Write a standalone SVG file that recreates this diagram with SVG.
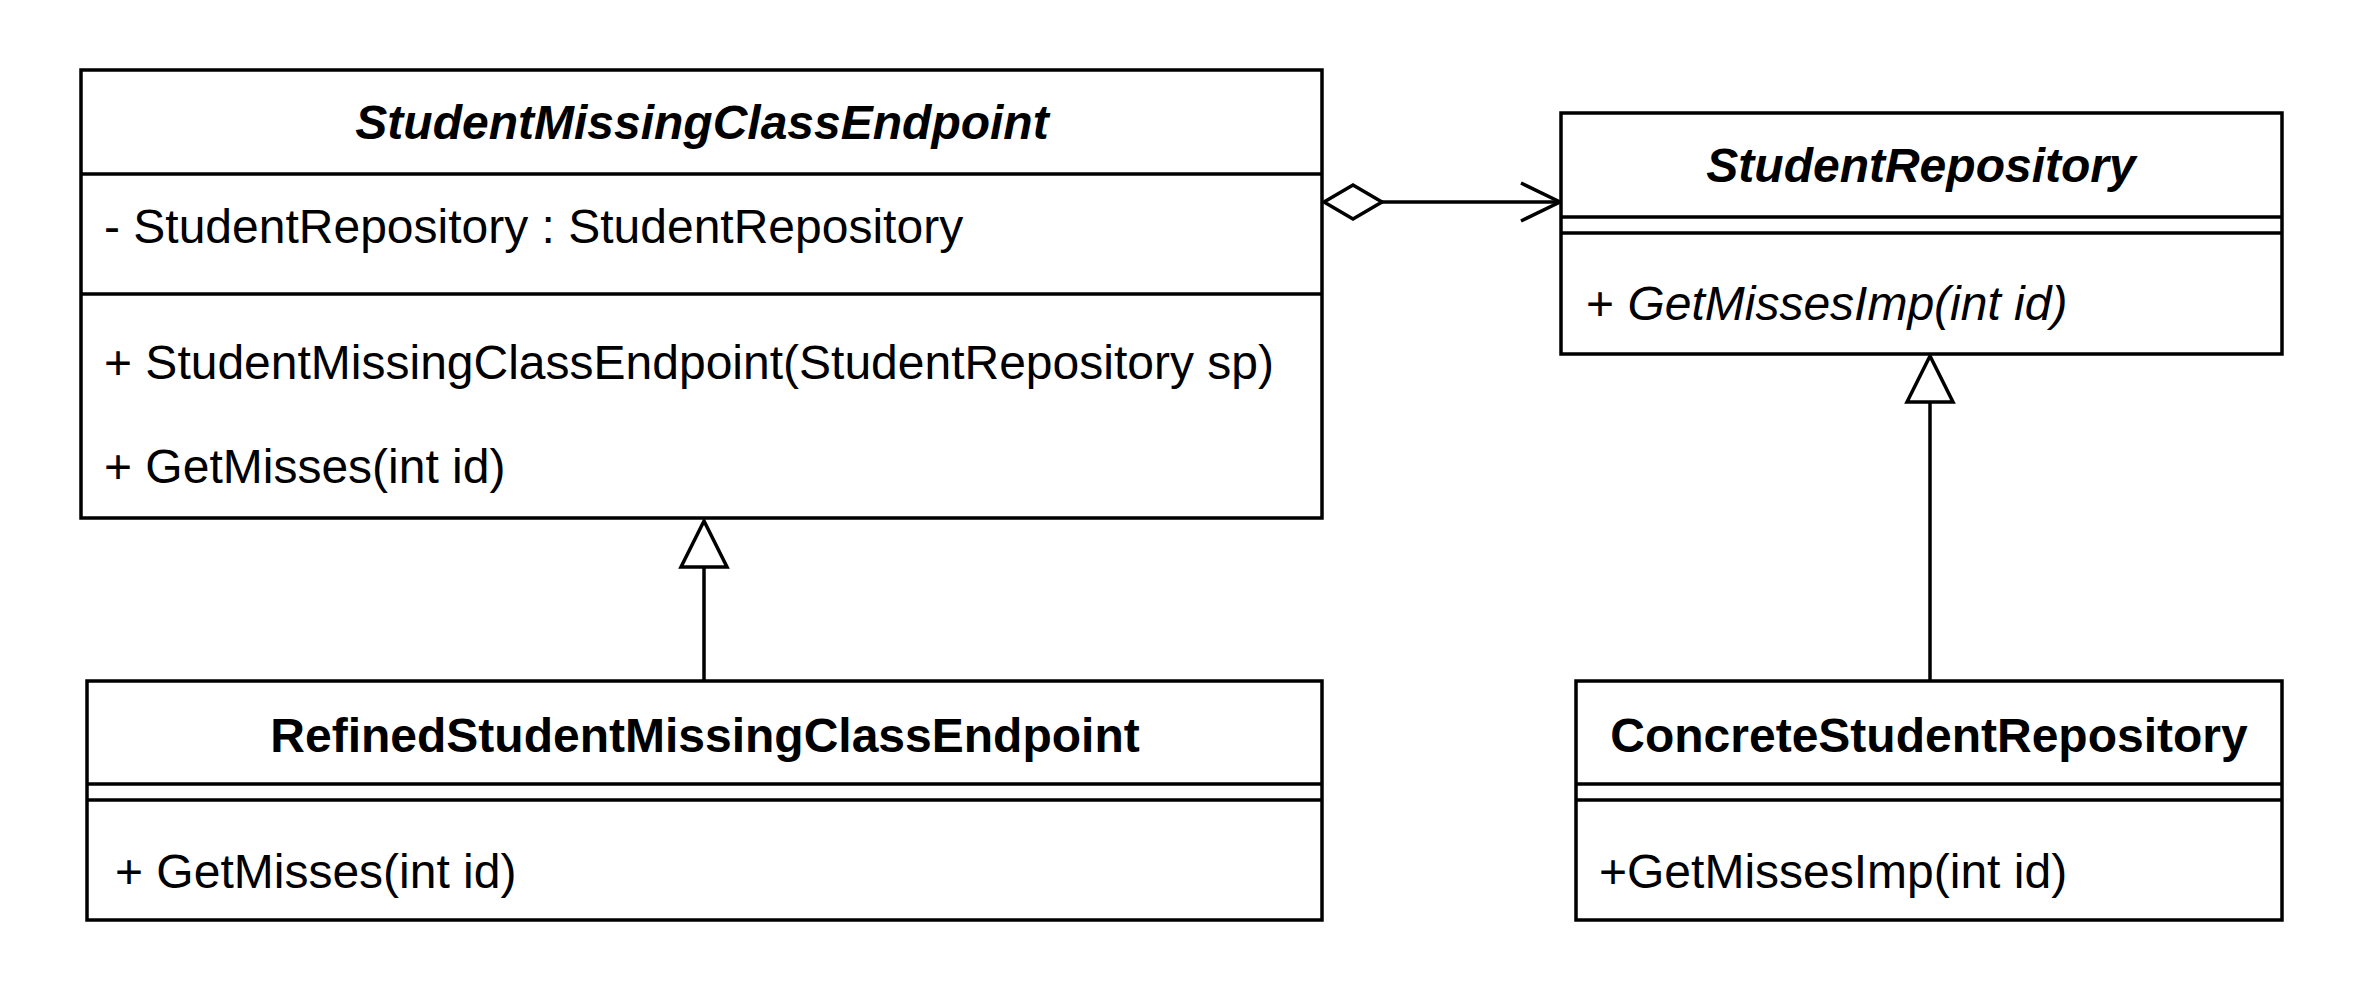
<svg xmlns="http://www.w3.org/2000/svg" width="2360" height="1000" viewBox="0 0 2360 1000">
<style>
.box{fill:#fff;stroke:#000;stroke-width:3.5}
.ln{stroke:#000;stroke-width:3.5;fill:none}
.t{font-family:"Liberation Sans",Arial,sans-serif;font-size:48px;fill:#000}
.title{font-weight:bold;text-anchor:middle}
.it{font-style:italic}
</style>
<rect width="2360" height="1000" fill="#fff"/>
<g id="connectors">
<line class="ln" x1="1382" y1="202" x2="1559" y2="202"/>
<polygon points="1324,202 1353,185 1382,202 1353,219" fill="#fff" stroke="#000" stroke-width="3.5"/>
<polyline class="ln" points="1521,183 1560,202 1521,221"/>
<line class="ln" x1="704" y1="567" x2="704" y2="681"/>
<polygon points="704,521 681,567 727,567" fill="#fff" stroke="#000" stroke-width="3.5"/>
<line class="ln" x1="1930" y1="402" x2="1930" y2="681"/>
<polygon points="1930,356 1907,402 1953,402" fill="#fff" stroke="#000" stroke-width="3.5"/>
</g>
<g id="StudentMissingClassEndpoint">
<rect class="box" x="81" y="70" width="1241" height="448"/>
<line class="ln" x1="81" y1="174" x2="1322" y2="174"/>
<line class="ln" x1="81" y1="294" x2="1322" y2="294"/>
<text class="t title it" x="702" y="139">StudentMissingClassEndpoint</text>
<text class="t" x="104" y="243">- StudentRepository : StudentRepository</text>
<text class="t" x="104" y="379">+ StudentMissingClassEndpoint(StudentRepository sp)</text>
<text class="t" x="104" y="483">+ GetMisses(int id)</text>
</g>
<g id="StudentRepository">
<rect class="box" x="1561" y="113" width="721" height="241"/>
<line class="ln" x1="1561" y1="217" x2="2282" y2="217"/>
<line class="ln" x1="1561" y1="233" x2="2282" y2="233"/>
<text class="t title it" x="1921" y="182">StudentRepository</text>
<text class="t" x="1586" y="320">+ <tspan class="it">GetMissesImp(int id)</tspan></text>
</g>
<g id="RefinedStudentMissingClassEndpoint">
<rect class="box" x="87" y="681" width="1235" height="239"/>
<line class="ln" x1="87" y1="784" x2="1322" y2="784"/>
<line class="ln" x1="87" y1="800" x2="1322" y2="800"/>
<text class="t title" x="705" y="752">RefinedStudentMissingClassEndpoint</text>
<text class="t" x="115" y="888">+ GetMisses(int id)</text>
</g>
<g id="ConcreteStudentRepository">
<rect class="box" x="1576" y="681" width="706" height="239"/>
<line class="ln" x1="1576" y1="784" x2="2282" y2="784"/>
<line class="ln" x1="1576" y1="800" x2="2282" y2="800"/>
<text class="t title" x="1929" y="752">ConcreteStudentRepository</text>
<text class="t" x="1599" y="888">+GetMissesImp(int id)</text>
</g>
</svg>
